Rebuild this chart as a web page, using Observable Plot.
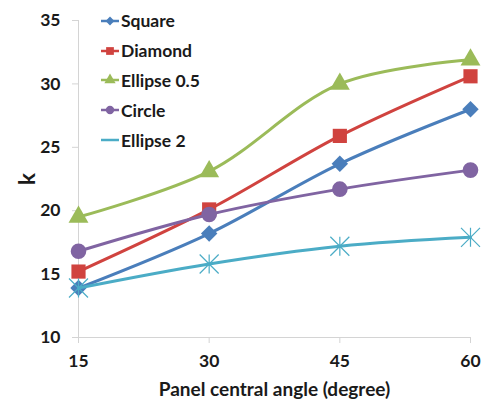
<!DOCTYPE html>
<html>
<head>
<meta charset="utf-8">
<script src="https://cdn.jsdelivr.net/npm/d3@7"></script>
<script src="https://cdn.jsdelivr.net/npm/@observablehq/plot@0.6"></script>
<style>
  body { margin: 0; background: #fff; }
  #wrap { position: relative; width: 487px; height: 400px; font-family: Lato, "Open Sans", sans-serif; }
  #legend { position: absolute; left: 100px; top: 6px; }
  .item { display: flex; align-items: center; height: 29.8px; font-weight: bold; font-size: 17.5px; color: #1a1a1a; }
  .item svg { margin-right: 1px; }
</style>
</head>
<body>
<div id="wrap"><div id="legend"></div></div>
<script>
const angles = [15, 30, 45, 60];
const seriesNames = ["Square", "Diamond", "Ellipse 0.5", "Circle", "Ellipse 2"];
const squareK = [13.9, 18.2, 23.7, 28.0];
const diamondK = [15.2, 20.1, 25.9, 30.6];
const ellipse05K = [19.5, 23.1, 30.0, 31.9];
const circleK = [16.8, 19.7, 21.7, 23.2];
const ellipse2K = [13.9, 15.8, 17.2, 17.9];
const xTicks = [15, 30, 45, 60];
const yTicks = [10, 15, 20, 25, 30, 35];

const seriesValues = [squareK, diamondK, ellipse05K, circleK, ellipse2K];

const asterisk = {
  draw(ctx, size) {
    const r = Math.sqrt(size / Math.PI);
    ctx.moveTo(0, -r); ctx.lineTo(0, r);
    ctx.moveTo(-r, -r); ctx.lineTo(r, r);
    ctx.moveTo(-r, r); ctx.lineTo(r, -r);
  }
};

const colors = ["#4a7ebb", "#d0433f", "#9bbb59", "#8064a2", "#4bacc6"];
const symbols = ["diamond2", "square", "triangle", "circle", asterisk];
const radii = [7.4, 8, 7.4, 7.8, 9.5];

const rows = seriesNames.flatMap((name, i) =>
  angles.map((a, j) => ({series: name, angle: a, k: seriesValues[i][j]})));

const marks = [
  Plot.ruleX([15], {y1: 10, y2: 35, stroke: "#d4d4d4", strokeWidth: 1}),
  Plot.ruleY([10], {x1: 15, x2: 60, stroke: "#d4d4d4", strokeWidth: 1}),
  Plot.axisX({ticks: xTicks, tickSize: 6, tickPadding: 11, stroke: "#d4d4d4", fill: "#1a1a1a",
    fontSize: 17.5, fontWeight: "bold", label: "Panel central angle (degree)", labelAnchor: "center",
    labelArrow: "none", labelOffset: 58}),
  Plot.axisY({ticks: yTicks, tickSize: 6, tickPadding: 12, stroke: "#d4d4d4", fill: "#1a1a1a",
    fontSize: 17.5, fontWeight: "bold", label: "k", labelAnchor: "center", labelArrow: "none", labelOffset: 60})
];

seriesNames.forEach((name, i) => {
  const data = rows.filter(d => d.series === name);
  marks.push(Plot.line(data, {x: "angle", y: "k", stroke: colors[i], strokeWidth: 3, curve: "catmull-rom"}));
  const isStroke = i === 4;
  marks.push(Plot.dot(data, {x: "angle", y: "k", symbol: () => symbols[i], r: radii[i],
    fill: isStroke ? "none" : colors[i], stroke: isStroke ? colors[i] : "none", strokeWidth: isStroke ? 1.2 : 0}));
});

const chart = Plot.plot({
  width: 487, height: 400,
  marginLeft: 78, marginRight: 17, marginTop: 20, marginBottom: 63,
  style: {fontFamily: "Lato, 'Open Sans', sans-serif", background: "#fff"},
  x: {domain: [15, 60]},
  y: {domain: [10, 35]},
  symbol: {type: "identity"},
  marks
});
chart.querySelectorAll("[aria-label$='axis label'] text").forEach(t => {
  t.setAttribute("font-size", t.textContent === "k" ? "23" : "19");
});
document.getElementById("wrap").prepend(chart);

const legend = document.getElementById("legend");
const legendTypes = [d3.symbolDiamond2, d3.symbolSquare, d3.symbolTriangle, d3.symbolCircle];
const legendSizes = [50, 60, 55, 55];
seriesNames.forEach((name, i) => {
  const item = document.createElement("div");
  item.className = "item";
  const svg = d3.create("svg").attr("width", 20).attr("height", 14);
  svg.append("line").attr("x1", 1).attr("x2", 19).attr("y1", 7).attr("y2", 7)
    .attr("stroke", colors[i]).attr("stroke-width", 2.5);
  if (i < 4) {
    svg.append("path").attr("d", d3.symbol(legendTypes[i], legendSizes[i])())
      .attr("transform", "translate(10,7)").attr("fill", colors[i]);
  }
  item.appendChild(svg.node());
  const span = document.createElement("span");
  span.textContent = name;
  item.appendChild(span);
  legend.appendChild(item);
});
</script>
</body>
</html>
